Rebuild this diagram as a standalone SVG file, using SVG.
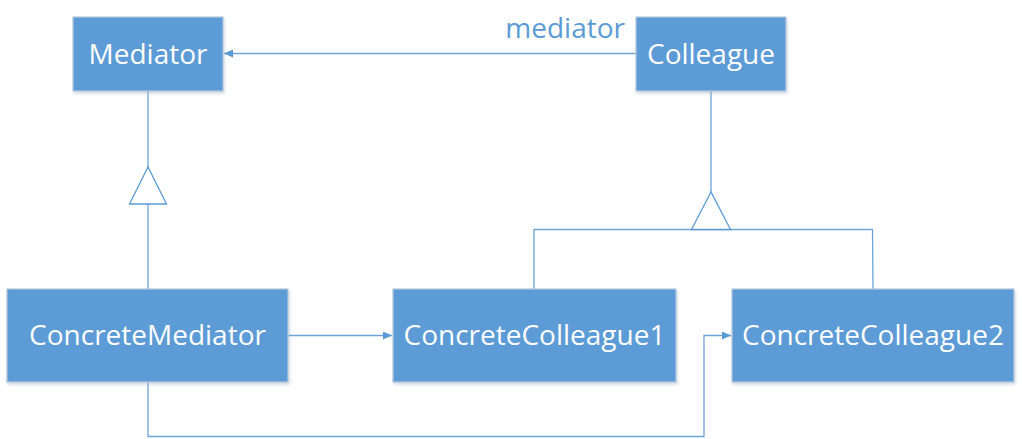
<svg xmlns="http://www.w3.org/2000/svg" width="1022" height="439" viewBox="0 0 1022 439">
<style>
.box{fill:#5b9bd5;stroke:#b8c9dc;stroke-width:1.2}
.lbl{font-family:"Open Sans","Noto Sans",sans-serif;font-size:28px;fill:#ffffff;text-anchor:middle}
.ln{fill:none;stroke:#6fa3d8;stroke-width:1.3}
.tri{fill:#ffffff;stroke:#5b9bd5;stroke-width:1.3}
</style>
<defs>
<marker id="arr" markerWidth="10" markerHeight="8" refX="9" refY="4" orient="auto" markerUnits="userSpaceOnUse">
<path d="M0,0 L9,4 L0,8 z" fill="#5b9bd5"/>
</marker>
<filter id="sh" x="-5%" y="-5%" width="115%" height="120%">
<feDropShadow dx="1" dy="2" stdDeviation="1.5" flood-color="#9fb4c9" flood-opacity="0.5"/>
</filter>
</defs>
<g id="connectors">
<line class="ln" x1="636" y1="53.5" x2="224" y2="53.5" marker-end="url(#arr)"/>
<line class="ln" x1="148" y1="91" x2="148" y2="167"/>
<line class="ln" x1="148" y1="204" x2="148" y2="289"/>
<polygon class="tri" points="148,167 129.5,204 166.5,204"/>
<line class="ln" x1="711" y1="91" x2="711" y2="192"/>
<polyline class="ln" points="534,289 534,229.5 872.5,229.5 873,289"/>
<polygon class="tri" points="711,192 691.5,229.5 730.5,229.5"/>
<line class="ln" x1="288" y1="335.5" x2="392" y2="335.5" marker-end="url(#arr)"/>
<polyline class="ln" points="148,382 148,436.5 704,436.5 704,335.5 731,335.5" marker-end="url(#arr)"/>
</g>
<text x="625" y="38" style="font-family:'Open Sans','Noto Sans',sans-serif;font-size:28px;fill:#5b9bd5;text-anchor:end">mediator</text>
<g id="Mediator">
<rect class="box" x="73" y="17" width="150" height="74" filter="url(#sh)"/>
<text class="lbl" x="148" y="64">Mediator</text>
</g>
<g id="Colleague">
<rect class="box" x="636" y="17" width="150" height="74" filter="url(#sh)"/>
<text class="lbl" x="711" y="64">Colleague</text>
</g>
<g id="ConcreteMediator">
<rect class="box" x="7" y="289" width="281" height="93" filter="url(#sh)"/>
<text class="lbl" x="147.5" y="345">ConcreteMediator</text>
</g>
<g id="ConcreteColleague1">
<rect class="box" x="393" y="289" width="283" height="93" filter="url(#sh)"/>
<text class="lbl" x="534.5" y="345">ConcreteColleague1</text>
</g>
<g id="ConcreteColleague2">
<rect class="box" x="732" y="289" width="282" height="93" filter="url(#sh)"/>
<text class="lbl" x="873" y="345">ConcreteColleague2</text>
</g>
</svg>
